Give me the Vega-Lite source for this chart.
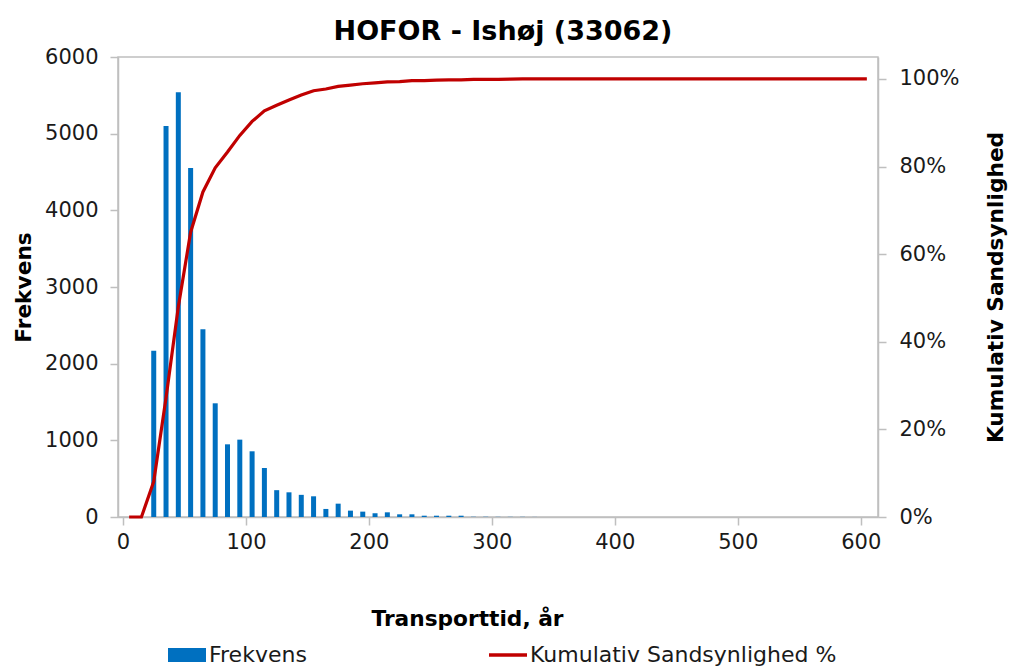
{
  "$schema": "https://vega.github.io/schema/vega-lite/v6.json",
  "width": 760,
  "height": 460,
  "autosize": {"type": "none"},
  "padding": {"left": 118, "top": 57, "right": 132, "bottom": 152},
  "background": "white",
  "title": {
    "text": "HOFOR - Ishøj (33062)",
    "font": "DejaVu Sans",
    "fontSize": 27,
    "fontWeight": "bold",
    "color": "#000000",
    "anchor": "middle",
    "frame": "group",
    "offset": 0,
    "dx": 5
  },
  "config": {
    "view": {"stroke": "#bfbfbf", "strokeWidth": 1.5},
    "axis": {
      "labelFont": "DejaVu Sans",
      "labelFontSize": 21,
      "labelColor": "#1a1a1a",
      "titleFont": "DejaVu Sans",
      "titleFontSize": 21.7,
      "titleFontWeight": "bold",
      "titleColor": "#000000",
      "grid": false,
      "tickSize": 8,
      "domainColor": "#bfbfbf",
      "tickColor": "#bfbfbf",
      "domainWidth": 1.5,
      "tickWidth": 1.5
    }
  },
  "data": {
    "values": [
      {"x": 5, "freq": 0, "cum": 0},
      {"x": 15, "freq": 0, "cum": 0},
      {"x": 25, "freq": 2169, "cum": 0.081},
      {"x": 35, "freq": 5100, "cum": 0.272},
      {"x": 45, "freq": 5539, "cum": 0.48},
      {"x": 55, "freq": 4552, "cum": 0.65},
      {"x": 65, "freq": 2448, "cum": 0.742},
      {"x": 75, "freq": 1483, "cum": 0.797},
      {"x": 85, "freq": 948, "cum": 0.833},
      {"x": 95, "freq": 1009, "cum": 0.871},
      {"x": 105, "freq": 857, "cum": 0.903},
      {"x": 115, "freq": 639, "cum": 0.927},
      {"x": 125, "freq": 350, "cum": 0.94},
      {"x": 135, "freq": 322, "cum": 0.952},
      {"x": 145, "freq": 289, "cum": 0.963},
      {"x": 155, "freq": 270, "cum": 0.973},
      {"x": 165, "freq": 105, "cum": 0.977},
      {"x": 175, "freq": 174, "cum": 0.983},
      {"x": 185, "freq": 83, "cum": 0.986},
      {"x": 195, "freq": 70, "cum": 0.989},
      {"x": 205, "freq": 48, "cum": 0.991},
      {"x": 215, "freq": 61, "cum": 0.993},
      {"x": 225, "freq": 35, "cum": 0.994},
      {"x": 235, "freq": 35, "cum": 0.996},
      {"x": 245, "freq": 17, "cum": 0.996},
      {"x": 255, "freq": 17, "cum": 0.997},
      {"x": 265, "freq": 17, "cum": 0.998},
      {"x": 275, "freq": 17, "cum": 0.998},
      {"x": 285, "freq": 3, "cum": 0.999},
      {"x": 295, "freq": 3, "cum": 0.999},
      {"x": 305, "freq": 2, "cum": 0.999},
      {"x": 315, "freq": 2, "cum": 0.9995},
      {"x": 325, "freq": 2, "cum": 1.0},
      {"x": 335, "freq": 1, "cum": 1.0},
      {"x": 605, "freq": 0, "cum": 1.0}
    ]
  },
  "encoding": {
    "x": {
      "field": "x",
      "type": "quantitative",
      "scale": {"domain": [0, 610], "nice": false},
      "axis": {
        "values": [0, 100, 200, 300, 400, 500, 600],
        "title": "Transporttid, år",
        "titlePadding": 56,
        "titleX": 349,
        "labelPadding": 6,
        "labelDx": 5
      }
    }
  },
  "layer": [
    {
      "mark": {"type": "bar", "size": 5},
      "encoding": {
        "y": {
          "field": "freq",
          "type": "quantitative",
          "scale": {"domain": [0, 6000], "nice": false},
          "axis": {
            "values": [0, 1000, 2000, 3000, 4000, 5000, 6000],
            "format": "d",
            "title": "Frekvens",
            "titlePadding": 9,
            "labelPadding": 12
          }
        },
        "color": {
          "datum": "Frekvens",
          "type": "nominal",
          "scale": {
            "domain": ["Frekvens", "Kumulativ Sandsynlighed %"],
            "range": ["#0070c0", "#c00000"]
          },
          "legend": {
            "orient": "none",
            "legendX": 50,
            "legendY": 579,
            "direction": "horizontal",
            "title": null,
            "labelFont": "DejaVu Sans",
            "labelFontSize": 22,
            "labelColor": "#1a1a1a",
            "labelLimit": 500,
            "labelOffset": 3,
            "symbolSize": 1444,
            "columnPadding": 182,
            "encode": {
              "symbols": {
                "update": {
                  "shape": {"signal": "datum.value === 'Frekvens' ? 'M-1,-0.37H1V0.37H-1Z' : 'M-1,-0.09H1V0.09H-1Z'"},
                  "fill": {"scale": "color", "field": "value"},
                  "stroke": {"value": "transparent"},
                  "strokeWidth": {"value": 0},
                  "opacity": {"value": 1}
                }
              }
            }
          }
        }
      }
    },
    {
      "mark": {"type": "line", "strokeWidth": 3.2},
      "encoding": {
        "y": {
          "field": "cum",
          "type": "quantitative",
          "scale": {"domain": [0, 1.05], "nice": false},
          "axis": {
            "orient": "right",
            "values": [0, 0.2, 0.4, 0.6, 0.8, 1.0],
            "format": ".0%",
            "title": "Kumulativ Sandsynlighed",
            "titleAngle": 270,
            "titlePadding": 48,
            "labelPadding": 13
          }
        },
        "color": {"datum": "Kumulativ Sandsynlighed %", "type": "nominal"}
      }
    }
  ],
  "resolve": {"scale": {"y": "independent"}}
}
